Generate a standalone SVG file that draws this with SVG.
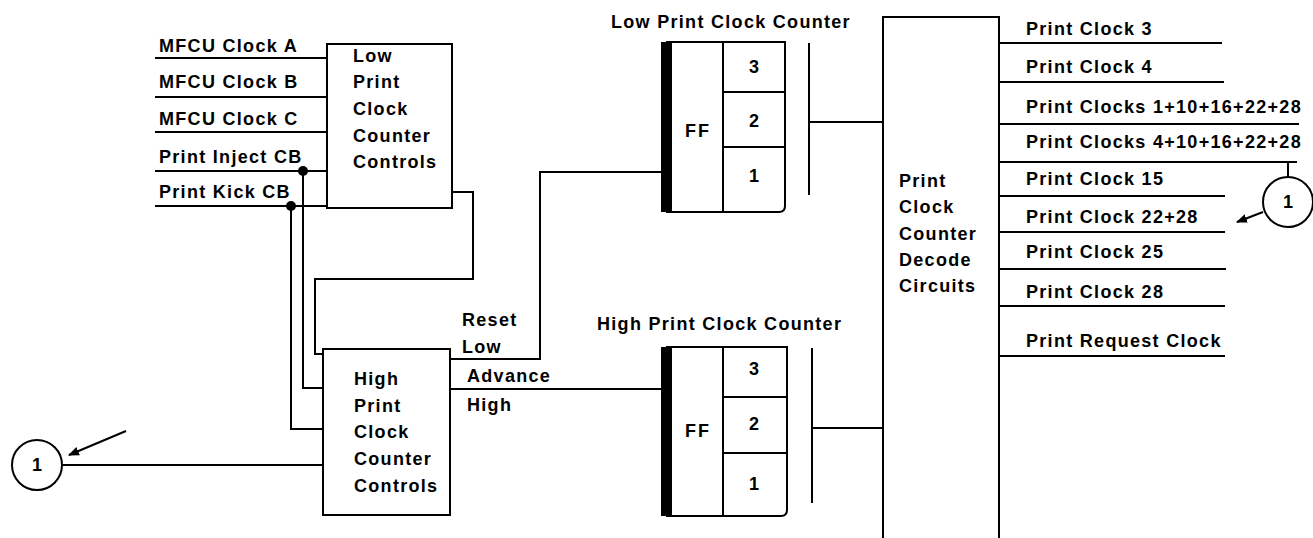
<svg xmlns="http://www.w3.org/2000/svg" width="1313" height="538" viewBox="0 0 1313 538">
<style>
.ln{fill:none;stroke:#000;stroke-width:2}
.box{fill:#fff;stroke:#000;stroke-width:2}
text{font-family:"Liberation Sans",Arial,sans-serif;font-weight:bold;font-size:18px;letter-spacing:1.3px;fill:#000}
.c{text-anchor:middle;letter-spacing:0}
.ff{text-anchor:middle;letter-spacing:2px}
</style>
<defs>
<marker id="ah" viewBox="0 0 10 10" refX="9" refY="5" markerWidth="11" markerHeight="11" markerUnits="userSpaceOnUse" orient="auto">
<path d="M0,1 L10,5 L0,9 Z" fill="#000"/>
</marker>
</defs>
<rect width="1313" height="538" fill="#fff"/>

<g id="connectors">
<line class="ln" x1="155" y1="58" x2="327" y2="58"/>
<line class="ln" x1="155" y1="97" x2="327" y2="97"/>
<line class="ln" x1="155" y1="132" x2="327" y2="132"/>
<line class="ln" x1="155" y1="171" x2="327" y2="171"/>
<line class="ln" x1="155" y1="206" x2="327" y2="206"/>
<circle cx="303" cy="171" r="5" fill="#000"/>
<circle cx="291" cy="206" r="5" fill="#000"/>
<polyline class="ln" points="303,171 303,388 323,388"/>
<polyline class="ln" points="291,206 291,429 323,429"/>
<polyline class="ln" points="452,192 473,192 473,279 315,279 315,354 323,354"/>
<polyline class="ln" points="450,359 540,359 540,172 661,172"/>
<line class="ln" x1="450" y1="389" x2="661" y2="389"/>
<line class="ln" x1="62" y1="465" x2="323" y2="465"/>
<line class="ln" x1="126" y1="431" x2="69" y2="455" marker-end="url(#ah)"/>
<line class="ln" x1="809" y1="43" x2="809" y2="195"/>
<line class="ln" x1="809" y1="122" x2="883" y2="122"/>
<line class="ln" x1="812" y1="348" x2="812" y2="503"/>
<line class="ln" x1="812" y1="428" x2="883" y2="428"/>
<line class="ln" x1="999" y1="43" x2="1222" y2="43"/>
<line class="ln" x1="999" y1="82" x2="1224" y2="82"/>
<line class="ln" x1="999" y1="124" x2="1299" y2="124"/>
<line class="ln" x1="999" y1="162" x2="1297" y2="162"/>
<line class="ln" x1="1288" y1="162" x2="1288" y2="177"/>
<line class="ln" x1="999" y1="196" x2="1225" y2="196"/>
<line class="ln" x1="999" y1="232" x2="1225" y2="232"/>
<line class="ln" x1="999" y1="269" x2="1226" y2="269"/>
<line class="ln" x1="999" y1="306" x2="1225" y2="306"/>
<line class="ln" x1="999" y1="356" x2="1225" y2="356"/>
<line class="ln" x1="1263" y1="212" x2="1237" y2="222" marker-end="url(#ah)"/>
</g>

<g id="low-controls">
<rect class="box" x="327" y="44" width="125" height="164"/>
<text x="353" y="62">Low</text>
<text x="353" y="88">Print</text>
<text x="353" y="115">Clock</text>
<text x="353" y="142">Counter</text>
<text x="353" y="168">Controls</text>
</g>

<g id="input-labels">
<text x="159" y="52">MFCU Clock A</text>
<text x="159" y="88">MFCU Clock B</text>
<text x="159" y="125">MFCU Clock C</text>
<text x="159" y="163">Print Inject CB</text>
<text x="159" y="198">Print Kick CB</text>
</g>

<g id="high-controls">
<rect class="box" x="323" y="349" width="127" height="166"/>
<text x="354" y="385">High</text>
<text x="354" y="412">Print</text>
<text x="354" y="438">Clock</text>
<text x="354" y="465">Counter</text>
<text x="354" y="492">Controls</text>
</g>

<g id="signal-labels">
<text x="462" y="326">Reset</text>
<text x="462" y="353">Low</text>
<text x="467" y="382">Advance</text>
<text x="467" y="411">High</text>
</g>

<g id="low-counter">
<text x="611" y="28">Low Print Clock Counter</text>
<path class="box" d="M667,42 H785 V206 Q785,212 779,212 H667 Z"/>
<rect x="661" y="42" width="11" height="170" fill="#000"/>
<line class="ln" x1="723" y1="42" x2="723" y2="212"/>
<line class="ln" x1="723" y1="92" x2="785" y2="92"/>
<line class="ln" x1="723" y1="147" x2="785" y2="147"/>
<text class="ff" x="698" y="137">FF</text>
<text class="c" x="754" y="73">3</text>
<text class="c" x="754" y="127">2</text>
<text class="c" x="754" y="182">1</text>
</g>

<g id="high-counter">
<text x="597" y="330">High Print Clock Counter</text>
<path class="box" d="M667,347 H787 V510 Q787,516 781,516 H667 Z"/>
<rect x="661" y="347" width="11" height="169" fill="#000"/>
<line class="ln" x1="723" y1="347" x2="723" y2="516"/>
<line class="ln" x1="723" y1="397" x2="787" y2="397"/>
<line class="ln" x1="723" y1="453" x2="787" y2="453"/>
<text class="ff" x="698" y="437">FF</text>
<text class="c" x="754" y="375">3</text>
<text class="c" x="754" y="430">2</text>
<text class="c" x="754" y="490">1</text>
</g>

<g id="decode">
<polyline class="ln" points="883,540 883,17 999,17 999,540"/>
<text x="899" y="187">Print</text>
<text x="899" y="213">Clock</text>
<text x="899" y="240">Counter</text>
<text x="899" y="266">Decode</text>
<text x="899" y="292">Circuits</text>
</g>

<g id="output-labels">
<text x="1026" y="35">Print Clock 3</text>
<text x="1026" y="73">Print Clock 4</text>
<text x="1026" y="113">Print Clocks 1+10+16+22+28</text>
<text x="1026" y="148">Print Clocks 4+10+16+22+28</text>
<text x="1026" y="185">Print Clock 15</text>
<text x="1026" y="223">Print Clock 22+28</text>
<text x="1026" y="258">Print Clock 25</text>
<text x="1026" y="298">Print Clock 28</text>
<text x="1026" y="347">Print Request Clock</text>
</g>

<g id="ref-left">
<circle class="box" cx="37" cy="465" r="25"/>
<text class="c" x="37" y="471">1</text>
</g>

<g id="ref-right">
<circle class="box" cx="1288" cy="202" r="25"/>
<text class="c" x="1288" y="208">1</text>
</g>
</svg>
